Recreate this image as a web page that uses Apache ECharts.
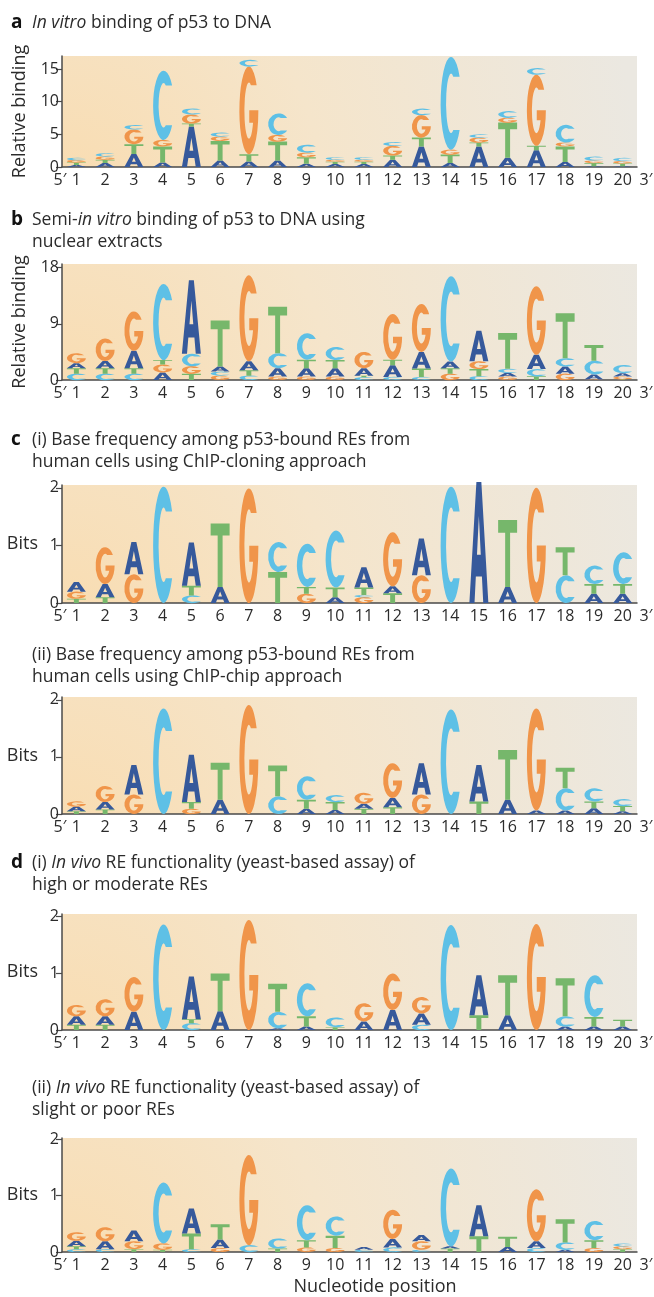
<!DOCTYPE html>
<html>
<head>
<meta charset="utf-8">
<script src="https://cdn.jsdelivr.net/npm/echarts@6/dist/echarts.min.js"></script>
<style>
html,body{margin:0;padding:0;background:#fff;}
#chart{width:654px;height:1297px;}
</style>
</head>
<body>
<div id="chart"></div>
<script>
// ---------- DATA (letters bottom -> top, heights in axis units) ----------
const positions = ['1','2','3','4','5','6','7','8','9','10','11','12','13','14','15','16','17','18','19','20'];

const panelA = [
  ['ATGC',[0.3,0.4,0.35,0.35]], ['ATGC',[0.6,0.5,0.5,0.5]], ['ATGC',[2.0,1.5,2.25,0.65]],
  ['ATGC',[0.7,2.45,1.0,10.6]], ['ATGC',[6.2,0.45,1.4,0.9]], ['ATGC',[1.0,3.0,0.65,0.6]],
  ['ATGC',[0.85,1.1,13.45,1.0]], ['ATGC',[1.0,2.9,1.0,3.3]], ['ATGC',[0.5,1.0,0.7,1.2]],
  ['ATGC',[0.45,0.35,0.3,0.4]], ['ATGC',[0.45,0.35,0.3,0.4]], ['ATGC',[1.1,0.65,1.5,0.55]],
  ['ATGC',[3.15,1.35,3.45,1.0]], ['ATGC',[0.6,1.3,0.75,14.2]], ['ATGC',[3.15,0.6,0.75,0.5]],
  ['ATGC',[1.4,5.4,0.75,1.0]], ['ATGC',[2.55,0.7,10.9,1.0]], ['ATGC',[0.75,2.4,0.6,2.7]],
  ['ATGC',[0.1,0.5,0.4,0.6]], ['ATGC',[0.1,0.45,0.35,0.5]]
];
const panelB = [
  ['CTAG',[1.0,0.9,0.8,1.6]], ['CTAG',[1.0,0.9,1.15,3.6]], ['CTAG',[1.0,0.9,2.8,6.3]],
  ['AGTC',[1.2,1.3,0.7,12.2]], ['TGCA',[1.0,1.2,2.0,11.8]], ['GCAT',[0.7,0.65,0.8,7.4]],
  ['CTAG',[0.7,0.85,1.45,13.8]], ['GACT',[0.55,1.35,2.4,7.45]], ['GATC',[0.55,1.35,1.35,4.25]],
  ['GATC',[0.55,1.35,1.3,2.1]], ['CTAG',[0.45,0.25,1.2,2.6]], ['CATG',[0.5,1.85,0.9,7.35]],
  ['CTAG',[0.5,1.35,2.65,7.7]], ['GTAC',[1.0,0.9,1.05,13.7]], ['CTGA',[0.6,1.15,1.25,4.9]],
  ['GACT',[0.55,0.6,0.65,5.75]], ['TCAG',[0.6,1.15,2.3,11.0]], ['GACT',[1.0,1.15,1.35,7.2]],
  ['GACT',[0.1,0.8,2.2,2.5]], ['TGAC',[0.1,0.45,0.55,1.3]]
];
const panelC1 = [
  ['TGA',[0.075,0.12,0.17]], ['TAG',[0.1,0.23,0.64]], ['GA',[0.5,0.56]], ['C',[2.02]],
  ['CTA',[0.13,0.17,0.75]], ['AT',[0.28,1.1]], ['G',[1.99]], ['TC',[0.54,0.52]],
  ['GTC',[0.16,0.12,0.75]], ['ATC',[0.1,0.17,0.99]], ['GCTA',[0.1,0.04,0.13,0.35]],
  ['TAG',[0.17,0.12,0.94]], ['GA',[0.48,0.64]], ['C',[2.02]], ['A',[2.1]], ['AT',[0.28,1.16]],
  ['G',[2.0]], ['CT',[0.48,0.49]], ['ATC',[0.16,0.17,0.32]], ['ATC',[0.16,0.17,0.55]]
];
const panelC2 = [
  ['TAG',[0.05,0.08,0.09]], ['TAG',[0.08,0.13,0.28]], ['GA',[0.34,0.52]], ['C',[1.85]],
  ['GTA',[0.09,0.12,0.83]], ['AT',[0.25,0.65]], ['G',[1.91]], ['CT',[0.31,0.54]],
  ['ATC',[0.09,0.16,0.41]], ['ATC',[0.07,0.14,0.12]], ['TAG',[0.09,0.09,0.19]],
  ['TAG',[0.12,0.16,0.61]], ['GA',[0.34,0.55]], ['C',[1.83]], ['TA',[0.22,0.64]],
  ['AT',[0.25,0.87]], ['AG',[0.06,1.79]], ['ACT',[0.06,0.39,0.36]], ['ATC',[0.1,0.12,0.23]],
  ['ATC',[0.05,0.09,0.12]]
];
const panelD1 = [
  ['TAG',[0.09,0.15,0.2]], ['TAG',[0.09,0.15,0.3]], ['AG',[0.32,0.61]], ['C',[1.85]],
  ['CTA',[0.12,0.07,0.75]], ['AT',[0.33,0.66]], ['G',[1.93]], ['ACT',[0.03,0.29,0.49]],
  ['ATC',[0.06,0.18,0.58]], ['TC',[0.05,0.17]], ['AG',[0.15,0.32]], ['AG',[0.35,0.64]],
  ['CAG',[0.09,0.2,0.29]], ['C',[1.84]], ['TA',[0.26,0.7]], ['AT',[0.26,0.7]], ['G',[1.86]],
  ['ACT',[0.06,0.18,0.67]], ['ATC',[0.06,0.17,0.73]], ['AT',[0.06,0.12]]
];
const panelD2 = [
  ['CTAG',[0.05,0.05,0.1,0.15]], ['CAG',[0.05,0.14,0.25]], ['TGA',[0.05,0.14,0.19]],
  ['TGC',[0.04,0.11,1.08]], ['CTA',[0.05,0.28,0.44]], ['GAT',[0.07,0.15,0.27]], ['CG',[0.12,1.6]],
  ['TC',[0.06,0.18]], ['GTC',[0.08,0.13,0.62]], ['GTC',[0.07,0.22,0.34]], ['CA',[0.04,0.05]],
  ['CAG',[0.08,0.15,0.52]], ['CGA',[0.04,0.15,0.11]], ['TAC',[0.06,0.04,1.38]], ['TA',[0.28,0.55]],
  ['AT',[0.09,0.18]], ['CAG',[0.07,0.12,0.92]], ['ACT',[0.04,0.13,0.41]], ['GTC',[0.07,0.14,0.34]],
  ['TGC',[0.05,0.05,0.05]]
];
const ticksA = [0,5,10,15];
const ticksB = [0,9,18];
const ticksBits = [0,1,2];

// ---------- STYLE ----------
const LETTERS = ['A','C','G','T'];
const COLORS = {A:'#36599b', C:'#5ec0e6', G:'#f0954a', T:'#76b76b'};
const GLYPHS = {
  A: 'M0,100 L37,0 L63,0 L100,100 L73,100 L66,78 L34,78 L27,100 Z M40,60 L60,60 L50,28 Z',
  T: 'M0,0 L100,0 L100,19 L63,19 L63,100 L37,100 L37,19 L0,19 Z',
  C: 'M90.96,21.32 A50,50 0 1 0 90.96,78.68 L60.65,78.68 A24,32 0 1 1 60.65,21.32 Z',
  G: 'M90.96,21.32 A50,50 0 1 0 100,50 L52,50 L52,64 L72,64 A24,32 0 1 1 60.65,21.32 Z'
};
const FONT = '"Open Sans", "DejaVu Sans", sans-serif';
const TXT = '#2b2b2b';

const panels = [
  {data: panelA, top: 56, base: 167, max: 17, ticks: ticksA, name: 'Relative binding', rot: 90, gap: 33},
  {data: panelB, top: 264, base: 380, max: 18.6, ticks: ticksB, name: 'Relative binding', rot: 90, gap: 33},
  {data: panelC1, top: 485, base: 603, max: 2.05, ticks: ticksBits, name: 'Bits', rot: 0, gap: 24},
  {data: panelC2, top: 697, base: 814, max: 2.05, ticks: ticksBits, name: 'Bits', rot: 0, gap: 24},
  {data: panelD1, top: 914, base: 1030, max: 2.035, ticks: ticksBits, name: 'Bits', rot: 0, gap: 24},
  {data: panelD2, top: 1138, base: 1252, max: 2.02, ticks: ticksBits, name: 'Bits', rot: 0, gap: 24}
];

const GRID_LEFT = 62, GRID_W = 575;

function bg() {
  return new echarts.graphic.RadialGradient(0.0, 1.25, 5.2, [
    {offset: 0, color: '#f9dcb0'},
    {offset: 0.45, color: '#f5e5cb'},
    {offset: 1, color: '#ebe8e1'}
  ]);
}

function renderLetter(params, api) {
  const x = api.value(0), y0 = api.value(1), y1 = api.value(2), li = api.value(3);
  const p0 = api.coord([x, y0]);
  const p1 = api.coord([x, y1]);
  const band = api.size([1, 0])[0];
  const w = band * 0.66;
  let h = p0[1] - p1[1];
  if (h < 0.8) h = 0.8;
  const L = LETTERS[li];
  return {
    type: 'path',
    shape: {pathData: GLYPHS[L], x: p0[0] - w / 2, y: p0[1] - h, width: w, height: h, layout: 'cover'},
    style: {fill: COLORS[L]}
  };
}

const grid = [], xAxis = [], yAxis = [], series = [], graphic = [];
panels.forEach((p, i) => {
  grid.push({left: GRID_LEFT, width: GRID_W, top: p.top, height: p.base - p.top, show: true,
    borderWidth: 0, backgroundColor: bg()});
  xAxis.push({type: 'category', gridIndex: i, data: positions, boundaryGap: true,
    axisLine: {lineStyle: {color: '#4a4a4a', width: 1.5}}, axisTick: {show: false},
    axisLabel: {fontSize: 16, color: TXT, margin: 5, fontFamily: FONT, interval: 0}});
  yAxis.push({type: 'value', gridIndex: i, min: 0, max: p.max,
    axisLine: {show: true, lineStyle: {color: '#4a4a4a', width: 1.5}},
    axisTick: {show: true, length: 6, customValues: p.ticks, lineStyle: {color: '#4a4a4a', width: 1.2}},
    axisLabel: {customValues: p.ticks, fontSize: 16, color: TXT, margin: 3, fontFamily: FONT},
    splitLine: {show: false},
    name: p.name, nameLocation: 'middle', nameGap: p.gap, nameRotate: p.rot,
    nameTextStyle: {fontSize: 18, color: TXT, fontFamily: FONT}});
  const items = [];
  p.data.forEach((stack, ci) => {
    let base = 0;
    const letters = stack[0], hs = stack[1];
    for (let k = 0; k < letters.length; k++) {
      items.push([ci, base, base + hs[k], LETTERS.indexOf(letters[k])]);
      base += hs[k];
    }
  });
  series.push({type: 'custom', xAxisIndex: i, yAxisIndex: i, renderItem: renderLetter,
    data: items, encode: {x: 0, y: [1, 2]}, clip: false, silent: true, animation: false});
  graphic.push({type: 'text', x: 60, y: p.base + 5,
    style: {text: '5′', fontSize: 16, fill: TXT, fontFamily: FONT, textAlign: 'center', textVerticalAlign: 'top'}});
  graphic.push({type: 'text', x: 646, y: p.base + 5,
    style: {text: '3′', fontSize: 16, fill: TXT, fontFamily: FONT, textAlign: 'center', textVerticalAlign: 'top'}});
});

const titles = [
  {tag: 'a', y: 23, lines: ['{i|In vitro} binding of p53 to DNA']},
  {tag: 'b', y: 220, lines: ['Semi-{i|in vitro} binding of p53 to DNA using', 'nuclear extracts']},
  {tag: 'c', y: 440, lines: ['(i) Base frequency among p53-bound REs from', 'human cells using ChIP-cloning approach']},
  {tag: '', y: 655, lines: ['(ii) Base frequency among p53-bound REs from', 'human cells using ChIP-chip approach']},
  {tag: 'd', y: 863, lines: ['(i) {i|In vivo} RE functionality (yeast-based assay) of', 'high or moderate REs']},
  {tag: '', y: 1088, lines: ['(ii) {i|In vivo} RE functionality (yeast-based assay) of', 'slight or poor REs']}
];
const TF = 17.5;
titles.forEach(t => {
  if (t.tag) graphic.push({type: 'text', x: 11, y: t.y,
    style: {text: t.tag, fontSize: 19, fontWeight: 'bold', fill: '#111', fontFamily: FONT, textVerticalAlign: 'middle'}});
  t.lines.forEach((ln, k) => {
    graphic.push({type: 'text', x: 32, y: t.y + k * 22,
      style: {text: ln, fontSize: TF, fill: TXT, fontFamily: FONT, textVerticalAlign: 'middle',
        rich: {i: {fontStyle: 'italic', fontSize: TF, fill: TXT, fontFamily: FONT}}}});
  });
});
graphic.push({type: 'text', x: 375, y: 1287,
  style: {text: 'Nucleotide position', fontSize: 18, fill: TXT, fontFamily: FONT, textAlign: 'center', textVerticalAlign: 'middle'}});

const chart = echarts.init(document.getElementById('chart'), null, {renderer: 'canvas'});
chart.setOption({animation: false, grid, xAxis, yAxis, series, graphic});
</script>
</body>
</html>
